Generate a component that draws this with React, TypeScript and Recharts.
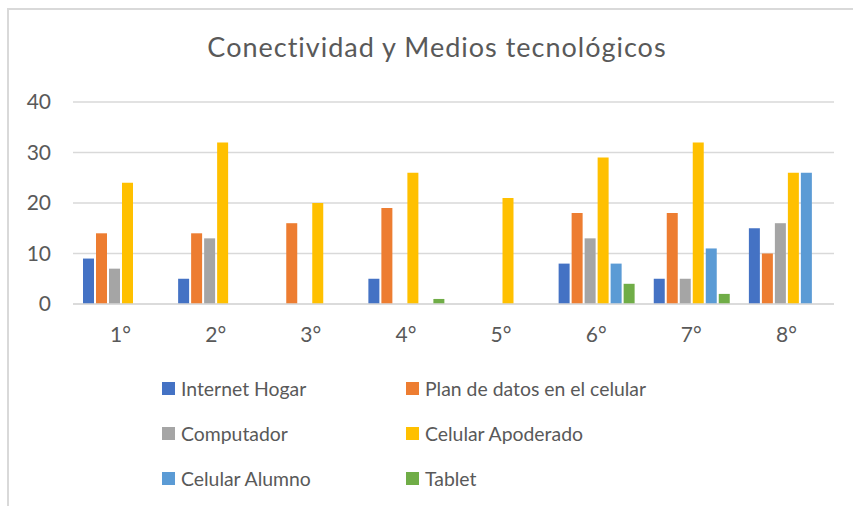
import { BarChart, Bar, XAxis, YAxis, CartesianGrid, Legend } from 'recharts';

const grades = ['1°', '2°', '3°', '4°', '5°', '6°', '7°', '8°'];

const internetHogar = [9, 5, null, 5, null, 8, 5, 15];
const planDatos = [14, 14, 16, 19, null, 18, 18, 10];
const computador = [7, 13, null, null, null, 13, 5, 16];
const celularApoderado = [24, 32, 20, 26, 21, 29, 32, 26];
const celularAlumno = [null, null, null, null, null, 8, 11, 26];
const tablet = [null, null, null, 1, null, 4, 2, null];

const yTicks = [0, 10, 20, 30, 40];

const series = [
  { key: 'internet', name: 'Internet Hogar', color: '#4472C4', values: internetHogar },
  { key: 'plan', name: 'Plan de datos en el celular', color: '#ED7D31', values: planDatos },
  { key: 'comp', name: 'Computador', color: '#A5A5A5', values: computador },
  { key: 'apod', name: 'Celular Apoderado', color: '#FFC000', values: celularApoderado },
  { key: 'alum', name: 'Celular Alumno', color: '#5B9BD5', values: celularAlumno },
  { key: 'tablet', name: 'Tablet', color: '#70AD47', values: tablet },
];

const data = grades.map((g, i) => {
  const row: Record<string, string | number | null> = { grade: g };
  series.forEach((s) => {
    row[s.key] = s.values[i];
  });
  return row;
});

const FONT = 'Lato, "Open Sans", sans-serif';
const TEXT = '#595959';
const GRID = '#D9D9D9';

function LegendGrid() {
  return (
    <div
      style={{
        display: 'grid',
        gridTemplateColumns: '244px 260px',
        fontFamily: FONT,
        fontSize: 19.4,
        color: TEXT,
      }}
    >
      {series.map((s) => (
        <div
          key={s.key}
          style={{ display: 'flex', alignItems: 'center', height: 45, whiteSpace: 'nowrap' }}
        >
          <span
            style={{
              display: 'inline-block',
              width: 13,
              height: 13,
              background: s.color,
              marginRight: 6,
            }}
          />
          {s.name}
        </div>
      ))}
    </div>
  );
}

export default function App() {
  return (
    <div
      style={{
        position: 'absolute',
        left: 0,
        top: 0,
        width: 853,
        height: 506,
        background: '#fff',
        overflow: 'hidden',
      }}
    >
      <div
        style={{
          position: 'absolute',
          left: 7,
          top: 8,
          width: 900,
          height: 600,
          borderTop: `2px solid ${GRID}`,
          borderLeft: `2px solid ${GRID}`,
        }}
      />
      <div
        style={{
          position: 'absolute',
          left: 0,
          top: 31,
          width: 874,
          textAlign: 'center',
          fontFamily: FONT,
          fontSize: 27,
          letterSpacing: 1,
          lineHeight: 1.2,
          color: TEXT,
        }}
      >
        Conectividad y Medios tecnológicos
      </div>
      <BarChart
        width={853}
        height={506}
        data={data}
        margin={{ top: 102, right: 19, bottom: 172, left: 13 }}
        barCategoryGap={10}
        barGap={2}
        style={{ position: 'absolute', left: 0, top: 0 }}
      >
        <CartesianGrid vertical={false} stroke={GRID} strokeWidth={1.5} />
        <XAxis
          dataKey="grade"
          height={30}
          tickSize={0}
          tickMargin={23}
          axisLine={{ stroke: GRID, strokeWidth: 1.5 }}
          tickLine={false}
          tick={{ fill: TEXT, fontSize: 21, fontFamily: FONT }}
        />
        <YAxis
          width={60}
          domain={[0, 40]}
          ticks={yTicks}
          tickSize={0}
          tickMargin={22}
          axisLine={false}
          tickLine={false}
          tick={{ fill: TEXT, fontSize: 21, fontFamily: FONT }}
        />
        <Legend
          layout="horizontal"
          verticalAlign="middle"
          align="center"
          content={<LegendGrid />}
          wrapperStyle={{ top: 366, left: 162, width: 520 }}
        />
        {series.map((s) => (
          <Bar
            key={s.key}
            dataKey={s.key}
            name={s.name}
            fill={s.color}
            isAnimationActive={false}
          />
        ))}
      </BarChart>
    </div>
  );
}
